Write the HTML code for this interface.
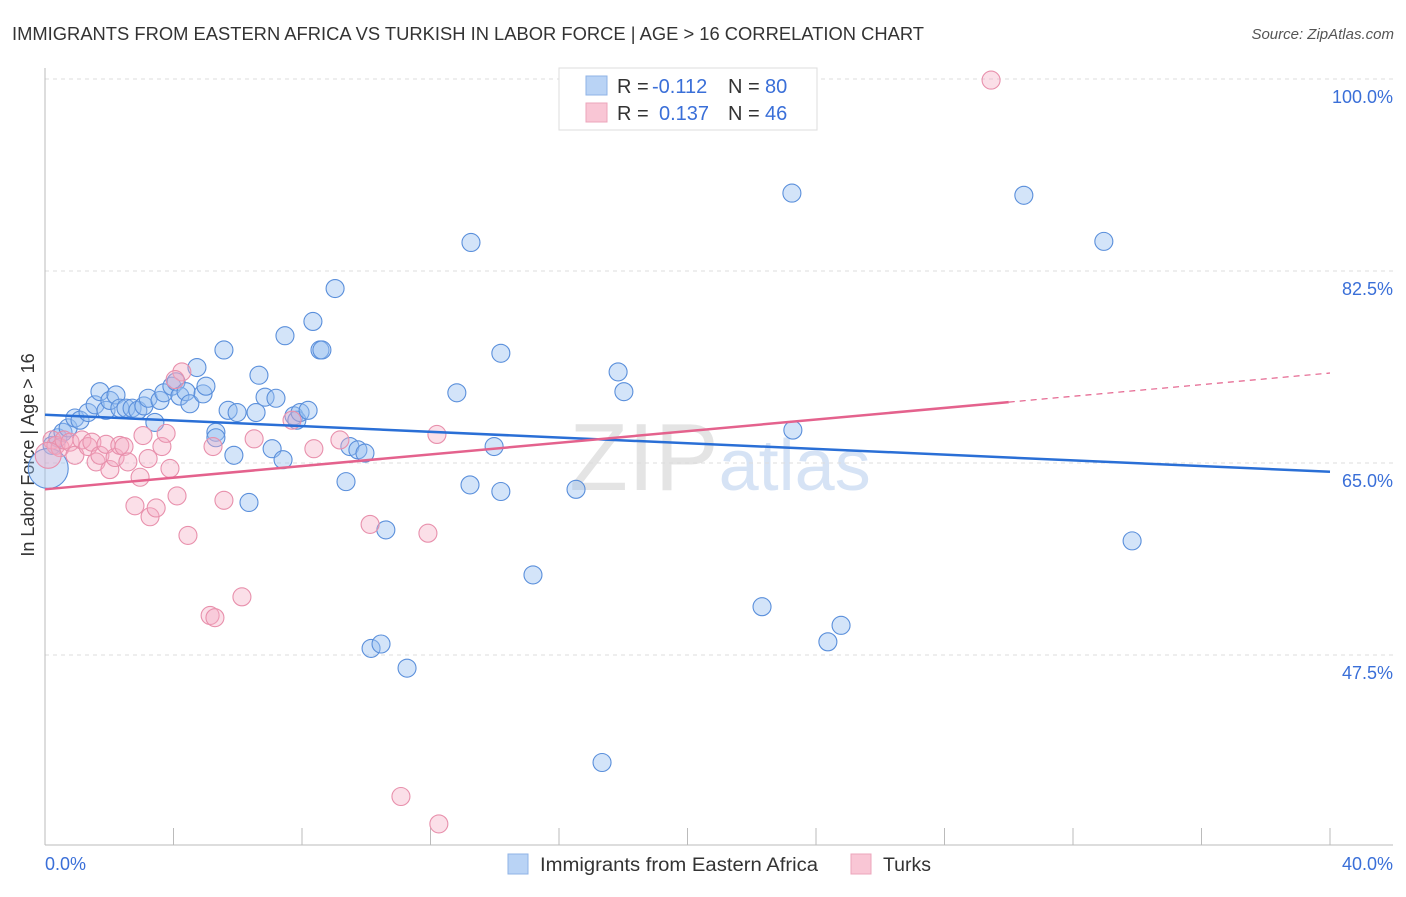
<!DOCTYPE html>
<html><head><meta charset="utf-8"><style>
body{margin:0;background:#fff;font-family:"Liberation Sans",sans-serif;}
svg text{font-family:"Liberation Sans",sans-serif;}
</style></head><body>
<svg id="chart" width="1406" height="892" xmlns="http://www.w3.org/2000/svg">
<text x="12" y="40" font-size="18" fill="#333" textLength="912" lengthAdjust="spacingAndGlyphs">IMMIGRANTS FROM EASTERN AFRICA VS TURKISH IN LABOR FORCE | AGE &gt; 16 CORRELATION CHART</text>
<text x="1394" y="39" font-size="15" fill="#555" text-anchor="end" font-style="italic">Source: ZipAtlas.com</text>
<text x="720" y="490" font-size="96" fill="#e4e4e4" text-anchor="middle" font-family="Liberation Serif"><tspan>ZIP</tspan><tspan fill="#d6e3f5" font-family="Liberation Sans" font-size="72">atlas</tspan></text>
<text transform="translate(34,455) rotate(-90)" font-size="18" fill="#333" text-anchor="middle">In Labor Force | Age &gt; 16</text>
<g id="grid"></g><g id="axes"></g><g id="pts"></g><g id="lines"></g>
<g>
<rect x="559" y="68" width="258" height="62" fill="#fff" stroke="#ddd"/>
<rect x="586" y="76" width="21" height="19" fill="#b9d3f5" stroke="#8fb3e6"/>
<rect x="586" y="103" width="21" height="19" fill="#f9c6d5" stroke="#eca5bb"/>
<text x="617" y="93" font-size="20" fill="#333">R = <tspan x="652" fill="#3a6fd8">-0.112</tspan><tspan x="728">N = </tspan><tspan x="765" fill="#3a6fd8">80</tspan></text>
<text x="617" y="120" font-size="20" fill="#333">R = <tspan x="659" fill="#3a6fd8">0.137</tspan><tspan x="728">N = </tspan><tspan x="765" fill="#3a6fd8">46</tspan></text>
</g>
<g>
<rect x="508" y="854" width="20" height="20" fill="#b9d3f5" stroke="#8fb3e6"/>
<text x="540" y="871" font-size="19" fill="#333" textLength="278" lengthAdjust="spacingAndGlyphs">Immigrants from Eastern Africa</text>
<rect x="851" y="854" width="20" height="20" fill="#f9c6d5" stroke="#eca5bb"/>
<text x="883" y="871" font-size="19" fill="#333" textLength="48" lengthAdjust="spacingAndGlyphs">Turks</text>
</g>
<text x="45" y="870" font-size="18" fill="#3a6fd8">0.0%</text>
<text x="1393" y="870" font-size="18" fill="#3a6fd8" text-anchor="end">40.0%</text>
</svg>
<script>
const yTicks=[100,82.5,65,47.5];
const yTickLabels=["100.0%","82.5%","65.0%","47.5%"];
const blueX=[0.22,0.40,0.56,0.72,0.93,1.09,1.34,1.56,1.71,1.90,2.02,2.21,2.33,2.52,2.71,2.89,3.08,3.21,3.42,3.58,3.70,3.95,4.08,4.20,4.39,4.51,4.73,4.92,5.01,5.32,5.32,5.57,5.70,5.88,5.98,6.35,6.57,6.66,6.85,7.07,7.19,7.41,7.47,7.75,7.84,7.94,8.19,8.34,8.56,8.62,9.03,9.37,9.49,9.74,9.96,10.61,10.15,10.46,11.27,12.82,13.23,13.26,13.98,14.19,14.19,15.19,16.53,17.34,17.84,18.02,22.32,23.25,23.28,24.37,24.78,30.47,32.96,33.84,0.1];
const blueY=[66.6,67.3,67.8,68.2,69.1,68.9,69.6,70.3,71.5,69.8,70.7,71.2,70.0,70.0,70.0,69.8,70.2,70.9,68.7,70.7,71.4,72.0,72.4,71.1,71.5,70.4,73.7,71.3,72.0,67.8,67.3,75.3,69.8,65.7,69.6,61.4,69.6,73.0,71.0,66.3,70.9,65.3,76.6,69.3,68.9,69.6,69.8,77.9,75.3,75.3,80.9,63.3,66.5,66.2,65.9,58.9,48.1,48.5,46.3,71.4,63.0,85.1,66.5,75.0,62.4,54.8,62.6,37.7,73.3,71.5,51.9,89.6,68.0,48.7,50.2,89.4,85.2,57.9,64.5];
const pinkX=[29.45,0.22,0.34,0.47,0.59,0.78,0.93,1.15,1.34,1.46,1.59,1.71,1.90,2.02,2.18,2.33,2.46,2.58,2.80,2.96,3.05,3.21,3.27,3.46,3.64,3.77,3.89,4.11,4.26,4.05,4.45,5.14,5.29,5.23,5.57,6.13,6.51,7.69,8.37,9.18,10.12,11.92,12.20,11.08,12.26,0.1];
const pinkY=[99.9,67.1,66.6,66.4,67.1,66.9,65.7,67.1,66.5,66.9,65.1,65.7,66.7,64.4,65.5,66.6,66.5,65.1,61.1,63.7,67.5,65.4,60.1,60.9,66.5,67.7,64.5,62.0,73.3,72.6,58.4,51.1,50.9,66.5,61.6,52.8,67.2,68.9,66.3,67.1,59.4,58.6,67.6,34.6,32.1,65.7];
const blueTrend=[69.4,64.2];
const pinkTrend=[62.6,73.2];
const pinkSolidEnd=30;
const NS="http://www.w3.org/2000/svg";
const xs=v=>45+v*32.125, ys=v=>79+(100-v)*10.971;
function mk(t,a,p){const e=document.createElementNS(NS,t);for(const k in a)e.setAttribute(k,a[k]);p.appendChild(e);return e;}
const grid=document.getElementById('grid'),axes=document.getElementById('axes'),pts=document.getElementById('pts'),lines=document.getElementById('lines');
yTicks.forEach((t,i)=>{
 const l=mk('line',{x1:45,x2:1393,y1:ys(t),y2:ys(t),stroke:'#ddd','stroke-dasharray':'4,4'},grid);
 
 
 const tx=mk('text',{x:1393,y:ys(t)+24,'font-size':18,fill:'#3a6fd8','text-anchor':'end'},grid);
 tx.textContent=yTickLabels[i];
 
 
});
const ya=mk('line',{x1:45,x2:45,y1:68,y2:845,stroke:'#bbb'},axes);


const xa=mk('line',{x1:45,x2:1393,y1:845,y2:845,stroke:'#bbb'},axes);


for(let i=0;i<=10;i++){const tk=mk('line',{x1:xs(i*4),x2:xs(i*4),y1:828,y2:845,stroke:'#bbb'},axes);
 
 }
function dot(x,y,r,fill,stroke,name){const c=mk('circle',{cx:xs(x),cy:ys(y),r:r,fill:fill,stroke:stroke,'stroke-width':1.1},pts);
 
 }
blueX.forEach((x,i)=>dot(x,blueY[i],i===blueX.length-1?20:9,'rgba(150,190,240,0.42)','#5a8fdb','eastern-africa-point'));
pinkX.forEach((x,i)=>dot(x,pinkY[i],i===pinkX.length-1?13:9,'rgba(245,170,195,0.38)','#e890ac','turks-point'));
const bl=mk('line',{x1:xs(0),y1:ys(blueTrend[0]),x2:xs(40),y2:ys(blueTrend[1]),stroke:'#2a6fd6','stroke-width':2.5},lines);


const pAt=x=>pinkTrend[0]+(pinkTrend[1]-pinkTrend[0])*x/40;
const pl=mk('line',{x1:xs(0),y1:ys(pinkTrend[0]),x2:xs(pinkSolidEnd),y2:ys(pAt(pinkSolidEnd)),stroke:'#e4628d','stroke-width':2.5},lines);


const pd=mk('line',{x1:xs(pinkSolidEnd),y1:ys(pAt(pinkSolidEnd)),x2:xs(40),y2:ys(pinkTrend[1]),stroke:'#e4628d','stroke-width':1.2,'stroke-dasharray':'6,5'},lines);


</script>
</body></html>
